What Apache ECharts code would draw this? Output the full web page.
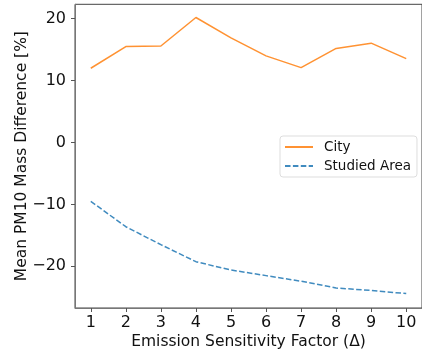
<!DOCTYPE html>
<html>
<head>
<meta charset="utf-8">
<script src="https://cdn.jsdelivr.net/npm/echarts@6/dist/echarts.min.js"></script>
<style>
  html, body { margin: 0; padding: 0; background: #fff; }
  #chart { width: 422px; height: 355px; }
</style>
</head>
<body>
<div id="chart"></div>
<script>
// Emission sensitivity factors (Δ)
const factors = [1, 2, 3, 4, 5, 6, 7, 8, 9, 10];
// Mean PM10 mass difference [%]
const cityValues = [12.0, 15.5, 15.6, 20.2, 16.9, 14.0, 12.1, 15.2, 16.05, 13.55];
const studiedAreaValues = [-9.5, -13.6, -16.5, -19.25, -20.6, -21.5, -22.4, -23.5, -23.9, -24.4];
// Tick labels
const xTicks = [1, 2, 3, 4, 5, 6, 7, 8, 9, 10];
const yTicks = [-20, -10, 0, 10, 20];

const font = 'DejaVu Sans';
const labelSize = 15.5;
const toPairs = (xs, ys) => xs.map((x, i) => [x, ys[i]]);

const chart = echarts.init(document.getElementById('chart'), null, { renderer: 'canvas' });
chart.setOption({
  animation: false,
  textStyle: { fontFamily: font },
  grid: {
    left: 75, top: 4.3, right: -1, bottom: 44.3,
    show: true, borderColor: '#444', borderWidth: 1, backgroundColor: 'transparent'
  },
  legend: {
    orient: 'vertical',
    left: 280, top: 136,
    padding: [4, 6, 4, 4],
    itemGap: 5,
    itemWidth: 28,
    itemHeight: 14,
    borderColor: '#ddd',
    borderWidth: 1,
    borderRadius: 3,
    backgroundColor: 'rgba(255,255,255,0.8)',
    itemStyle: { opacity: 0 },
    textStyle: { fontFamily: font, fontSize: 13.5, color: '#111', padding: [0, 0, 0, 6] },
    data: ['City', 'Studied Area']
  },
  xAxis: {
    type: 'value',
    min: 0.55, max: 10.45,
    name: 'Emission Sensitivity Factor (Δ)',
    nameLocation: 'middle',
    nameGap: 26,
    nameMoveOverlap: false,
    nameTextStyle: { fontFamily: font, fontSize: labelSize, color: '#111' },
    axisLine: { show: true, onZero: false, lineStyle: { color: '#777', width: 1 } },
    axisTick: { show: true, length: 4, lineStyle: { color: '#555' }, customValues: xTicks },
    axisLabel: { fontFamily: font, fontSize: 16, color: '#111', margin: 7, customValues: xTicks },
    splitLine: { show: false }
  },
  yAxis: {
    type: 'value',
    min: -26.73, max: 22.33,
    name: 'Mean PM10 Mass Difference [%]',
    nameLocation: 'middle',
    nameGap: 45,
    nameMoveOverlap: false,
    nameTextStyle: { fontFamily: font, fontSize: labelSize, color: '#111' },
    axisLine: { show: true, onZero: false, lineStyle: { color: '#777', width: 1 } },
    axisTick: { show: true, length: 4, lineStyle: { color: '#555' }, customValues: yTicks },
    axisLabel: {
      fontFamily: font, fontSize: 16, color: '#111', margin: 9, customValues: yTicks,
      formatter: v => (v < 0 ? '\u2212' + Math.abs(v) : String(v))
    },
    splitLine: { show: false }
  },
  series: [
    {
      name: 'City',
      type: 'line',
      data: toPairs(factors, cityValues),
      symbol: 'none',
      lineStyle: { color: 'rgba(255,127,14,0.85)', width: 1.5 },
      itemStyle: { color: 'rgba(255,127,14,0.85)' }
    },
    {
      name: 'Studied Area',
      type: 'line',
      data: toPairs(factors, studiedAreaValues),
      symbol: 'none',
      lineStyle: { color: 'rgba(31,119,180,0.85)', width: 1.5, type: [5.5, 2.4] },
      itemStyle: { color: 'rgba(31,119,180,0.85)' }
    }
  ]
});
</script>
</body>
</html>
